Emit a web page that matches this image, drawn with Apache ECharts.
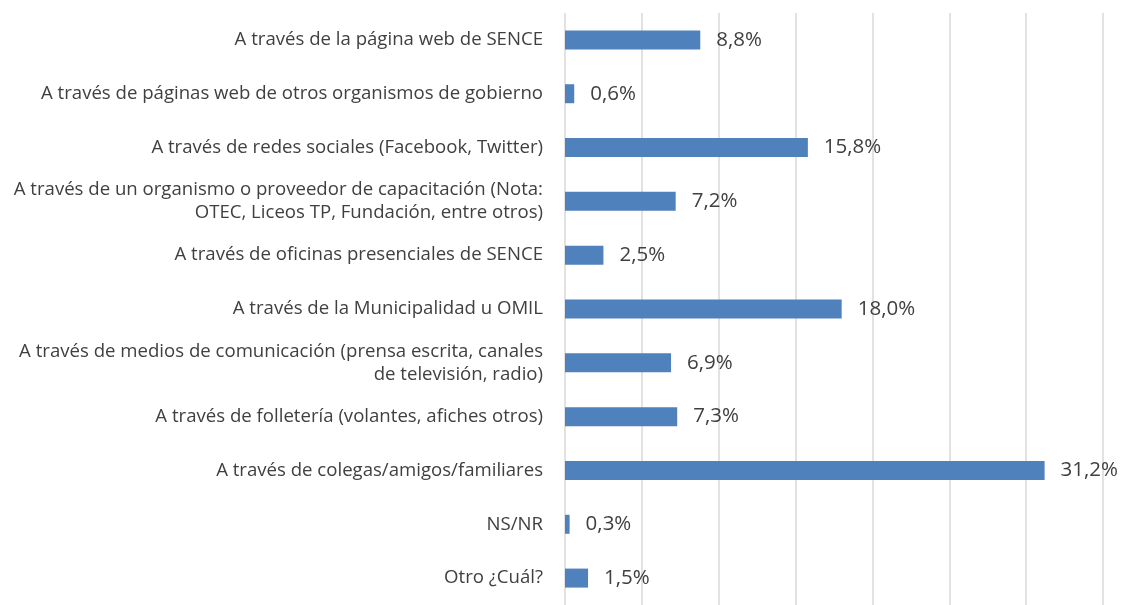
<!DOCTYPE html>
<html>
<head>
<meta charset="utf-8">
<script src="https://cdn.jsdelivr.net/npm/echarts@6/dist/echarts.min.js"></script>
<style>
  html, body { margin: 0; padding: 0; background: #fff; }
  #chart { width: 1122px; height: 605px; }
</style>
</head>
<body>
<div id="chart"></div>
<script>
const categories = [
  'A través de la página web de SENCE',
  'A través de páginas web de otros organismos de gobierno',
  'A través de redes sociales (Facebook, Twitter)',
  'A través de un organismo o proveedor de capacitación (Nota:\nOTEC, Liceos TP, Fundación, entre otros)',
  'A través de oficinas presenciales de SENCE',
  'A través de la Municipalidad u OMIL',
  'A través de medios de comunicación (prensa escrita, canales\nde televisión, radio)',
  'A través de folletería (volantes, afiches otros)',
  'A través de colegas/amigos/familiares',
  'NS/NR',
  'Otro ¿Cuál?'
]
const values = [8.8, 0.6, 15.8, 7.2, 2.5, 18.0, 6.9, 7.3, 31.2, 0.3, 1.5]

const chart = echarts.init(document.getElementById('chart'))

chart.setOption({
  animation: false,
  grid: {
    left: 565,
    top: 13,
    width: 538,
    height: 597,
    containLabel: false
  },
  xAxis: {
    type: 'value',
    min: 0,
    max: 35,
    interval: 5,
    axisLine: { show: false },
    axisTick: { show: false },
    axisLabel: { show: false },
    splitLine: { lineStyle: { color: '#d9d9d9', width: 1.5 } }
  },
  yAxis: {
    type: 'category',
    inverse: true,
    data: categories,
    axisLine: { show: false },
    axisTick: { show: false },
    axisLabel: {
      margin: 22,
      color: '#404040',
      fontFamily: 'Open Sans',
      fontSize: 18.6,
      lineHeight: 23,
      align: 'right'
    }
  },
  series: [
    {
      type: 'bar',
      data: values,
      barWidth: 19,
      itemStyle: { color: '#4f81bd' },
      label: {
        show: true,
        position: 'right',
        distance: 16,
        color: '#404040',
        fontFamily: 'Open Sans',
        fontSize: 20.5,
        formatter: (p) => p.value.toFixed(1).replace('.', ',') + '%'
      }
    }
  ]
})
</script>
</body>
</html>
